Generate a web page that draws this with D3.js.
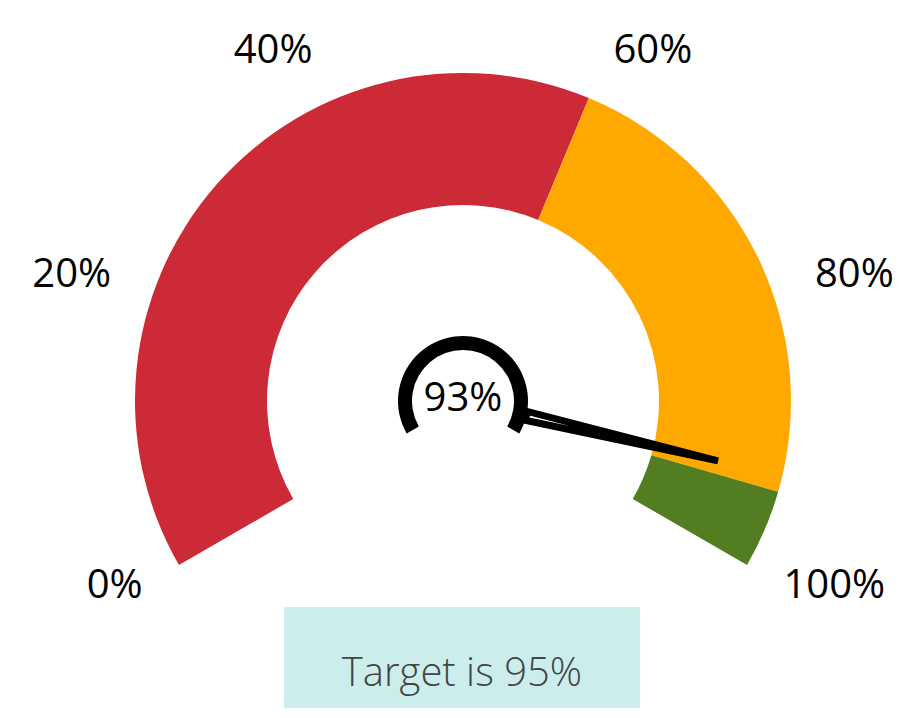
<!DOCTYPE html>
<html>
<head>
<meta charset="utf-8">
<script src="https://cdn.jsdelivr.net/npm/d3@7/dist/d3.min.js"></script>
<style>
  html, body { margin: 0; padding: 0; background: #fff; }
  svg { display: block; }
</style>
</head>
<body>
<div id="chart"></div>
<script>
// gauge data
var bandStops = [0, 59.4, 94.2, 100];
var bandColors = ["#cc2a36", "#ffa800", "#527e21"];
var tickValues = [0, 20, 40, 60, 80, 100];
var gaugeValue = 93;
var targetValue = 95;

var width = 906;
var height = 718;
var cx = 463;
var cy = 401;
var outerRadius = 328;
var innerRadius = 196;
var labelRadius = 370;

var svg = d3.select("#chart")
    .append("svg")
    .attr("width", width)
    .attr("height", height);

var angle = d3.scaleLinear()
    .domain([0, 100])
    .range([-2 * Math.PI / 3, 2 * Math.PI / 3]);

var g = svg.append("g")
    .attr("transform", "translate(" + cx + "," + cy + ")");

// coloured bands
var bands = d3.range(bandColors.length).map(function(i){
    return { from: bandStops[i], to: bandStops[i + 1], color: bandColors[i] };
});

var bandArc = d3.arc()
    .innerRadius(innerRadius)
    .outerRadius(outerRadius)
    .startAngle(function(d){ return angle(d.from); })
    .endAngle(function(d){ return angle(d.to); });

g.selectAll("path.band")
    .data(bands)
    .enter()
    .append("path")
    .attr("class", "band")
    .attr("d", bandArc)
    .attr("fill", function(d){ return d.color; });

// tick labels round the outside
function polar(r, a){
    return [r * Math.sin(a), -r * Math.cos(a)];
}

g.selectAll("text.tick")
    .data(tickValues)
    .enter()
    .append("text")
    .attr("class", "tick")
    .attr("x", function(d){ return polar(labelRadius, angle(d))[0]; })
    .attr("y", function(d){ return polar(labelRadius, angle(d))[1]; })
    .attr("dy", function(d){ return Math.cos(angle(d)) < 0 ? "0.3em" : "0"; })
    .attr("text-anchor", function(d){
        var s = Math.sin(angle(d));
        return s < -0.01 ? "end" : (s > 0.01 ? "start" : "middle");
    })
    .style("font-family", "'Open Sans', sans-serif")
    .style("font-size", "40px")
    .style("fill", "#000")
    .text(function(d){ return d + "%"; });

// needle
var a = angle(gaugeValue);
var baseR = 65, tipR = 262, halfW = 4.5;
var perp = [Math.cos(a), Math.sin(a)];
var base = polar(baseR, a);
var tip = polar(tipR, a);
var needlePts = [
    [base[0] + perp[0] * halfW, base[1] + perp[1] * halfW],
    tip,
    [base[0] - perp[0] * halfW, base[1] - perp[1] * halfW]
];

g.append("path")
    .attr("d", "M" + needlePts.map(function(p){ return p.join(","); }).join("L") + "Z")
    .attr("fill", "#fff")
    .attr("stroke", "#000")
    .attr("stroke-width", 7);

// hub ring
var hubArc = d3.arc()
    .innerRadius(51)
    .outerRadius(65)
    .startAngle(angle(0))
    .endAngle(angle(100));

g.append("path")
    .attr("d", hubArc())
    .attr("fill", "#000");

g.append("text")
    .attr("x", 0)
    .attr("y", 10)
    .attr("text-anchor", "middle")
    .style("font-family", "'Open Sans', sans-serif")
    .style("font-size", "40px")
    .style("fill", "#000")
    .text(gaugeValue + "%");

// target box
svg.append("rect")
    .attr("x", 284)
    .attr("y", 607)
    .attr("width", 356)
    .attr("height", 101)
    .attr("fill", "#cbeeec");

svg.append("text")
    .attr("x", 462)
    .attr("y", 686)
    .attr("text-anchor", "middle")
    .style("font-family", "'Open Sans', sans-serif")
    .style("font-weight", 300)
    .style("font-size", "40px")
    .style("fill", "#444")
    .text("Target is " + targetValue + "%");
</script>
</body>
</html>
